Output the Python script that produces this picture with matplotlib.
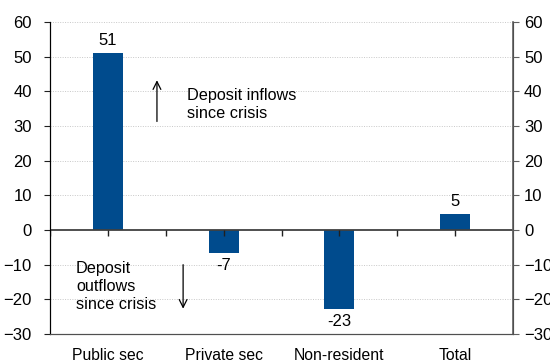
import matplotlib
matplotlib.use("Agg")
import matplotlib.pyplot as plt
import numpy as np

plt.rcParams['font.family'] = ['Liberation Sans', 'DejaVu Sans']

categories = ['Public sec', 'Private sec', 'Non-resident', 'Total']
values = [51.0, -6.6, -22.7, 4.6]
labels = ['51', '-7', '-23', '5']
yticks = [-30, -20, -10, 0, 10, 20, 30, 40, 50, 60]

bar_color = '#004B8D'

fig = plt.figure(figsize=(5.5, 3.63), dpi=100)
ax = fig.add_axes([50 / 550, 1 - 334 / 363, 463 / 550, 312 / 363])

x = np.arange(len(categories))
ax.bar(x, values, width=0.26, color=bar_color, zorder=3)

for xi, v, lab in zip(x, values, labels):
    if v >= 0:
        ax.text(xi, v + 1.5, lab, ha='center', va='bottom', fontsize=12)
    else:
        ax.text(xi, v - 1.5, lab, ha='center', va='top', fontsize=12)

ax.set_xlim(-0.5, len(categories) - 0.5)
ax.set_ylim(-30, 60)

# grid + zero line
for t in yticks:
    if t in (-30, 0):
        continue
    ax.axhline(t, color='#c8c8c8', lw=0.7, ls=(0, (1, 1.5)), zorder=1)
ax.axhline(0, color='#404040', lw=1.3, zorder=4)

# small category ticks on the zero line
tick_pos = np.arange(-0.5, len(categories), 0.5)
ax.plot(tick_pos, np.zeros_like(tick_pos), ls='none', marker=3,
        markersize=4, color='#202020', markeredgewidth=1, zorder=5)

ax.set_xticks(x)
ax.set_xticklabels(categories, fontsize=11.3)
ax.tick_params(axis='x', length=0, pad=10)

ax.set_yticks(yticks)
ax.tick_params(axis='y', labelsize=12, length=4, pad=9, direction='out', color='#202020')

ax2 = ax.twinx()
ax2.set_ylim(ax.get_ylim())
ax2.set_yticks(yticks)
ax2.tick_params(axis='y', labelsize=12, length=4, pad=4, direction='out', color='#606060')

for a in (ax, ax2):
    a.spines['top'].set_visible(False)
    a.spines['bottom'].set_color('#505050')
ax.spines['left'].set_color('#000000')
ax2.spines['right'].set_color('#606060')
ax2.spines['right'].set_linewidth(1.2)

# annotations
arrow = dict(arrowstyle='->', color='black', lw=0.9, mutation_scale=14)
ax.annotate('', xy=(0.424, 44), xytext=(0.424, 30.5), arrowprops=arrow)
ax.text(0.68, 41, 'Deposit inflows\nsince crisis', ha='left', va='top',
        fontsize=11.7, linespacing=1.25)

ax.annotate('', xy=(0.65, -23.5), xytext=(0.65, -9.2), arrowprops=arrow)
ax.text(-0.275, -9.0, 'Deposit\noutflows\nsince crisis', ha='left', va='top',
        fontsize=11.7, linespacing=1.25)

plt.savefig('out.png', dpi=100)
